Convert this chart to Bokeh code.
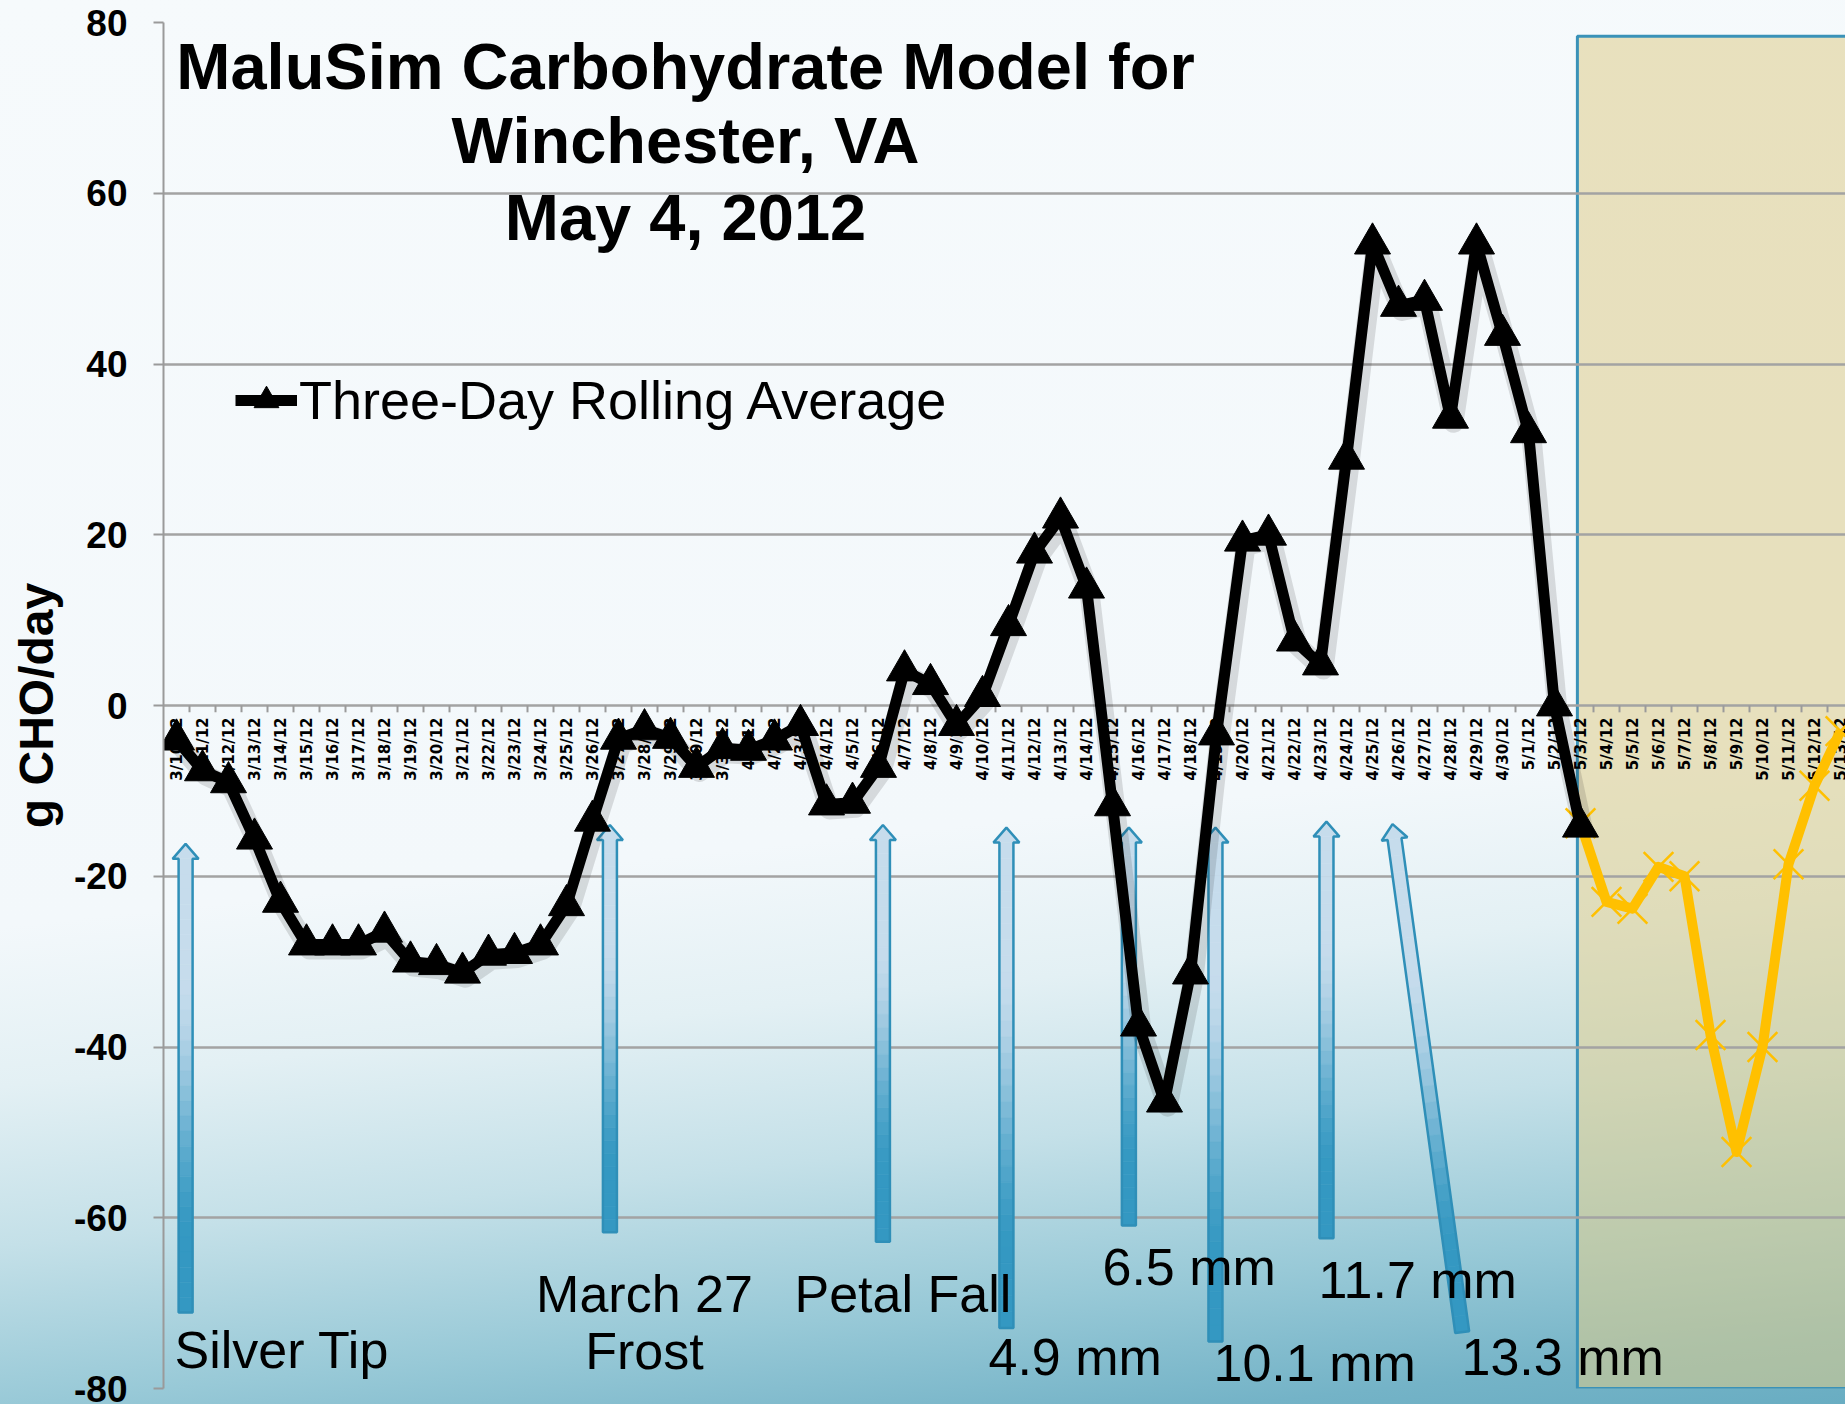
import math
from bokeh.plotting import figure
from bokeh.models import Range1d, FixedTicker, Legend, LegendItem
from bokeh.embed import file_html
from bokeh.resources import INLINE
from bokeh.core.properties import value

# ---------------- data ----------------
dates = ["3/10/12", "3/11/12", "3/12/12", "3/13/12", "3/14/12", "3/15/12", "3/16/12", "3/17/12",
         "3/18/12", "3/19/12", "3/20/12", "3/21/12", "3/22/12", "3/23/12", "3/24/12", "3/25/12",
         "3/26/12", "3/27/12", "3/28/12", "3/29/12", "3/30/12", "3/31/12",
         "4/1/12", "4/2/12", "4/3/12", "4/4/12", "4/5/12", "4/6/12", "4/7/12", "4/8/12", "4/9/12",
         "4/10/12", "4/11/12", "4/12/12", "4/13/12", "4/14/12", "4/15/12", "4/16/12", "4/17/12",
         "4/18/12", "4/19/12", "4/20/12", "4/21/12", "4/22/12", "4/23/12", "4/24/12", "4/25/12",
         "4/26/12", "4/27/12", "4/28/12", "4/29/12", "4/30/12",
         "5/1/12", "5/2/12", "5/3/12", "5/4/12", "5/5/12", "5/6/12", "5/7/12", "5/8/12", "5/9/12",
         "5/10/12", "5/11/12", "5/12/12", "5/13/12"]

rolling_avg = [-4, -7.6, -9, -15.6, -23, -28, -28, -28, -26.5, -30, -30.3, -31.3, -29.2, -29, -28,
               -23.4, -13.5, -3.9, -2.8, -3.8, -7.2, -5, -5.2, -4, -2.3, -11.6, -11.4, -7.2, 4.1,
               2.5, -2.3, 1.1, 9.4, 17.9, 22, 13.8, -11.7, -37.5, -46.4, -31.4, -3.4, 19.3, 20,
               7.6, 4.8, 28.9, 54.1, 46.8, 47.5, 33.7, 54.1, 43.4, 32, 0, -14.2]

forecast_dates = dates[54:]
forecast = [-13.8, -23, -23.8, -18.9, -20, -38.6, -52.3, -40, -18.6, -9.4, -3]

y_ticks = [-80, -60, -40, -20, 0, 20, 40, 60, 80]
y_tick_labels = ["-80", "-60", "-40", "-20", "0", "20", "40", "60", "80"]

# stage arrows: base and tip in category / g CHO units
arrow_labels = ["Silver Tip", "March 27 Frost", "Petal Fall", "4.9 mm", "6.5 mm",
                "10.1 mm", "11.7 mm", "13.3 mm"]
arrow_base_x = [0.85, 17.17, 27.67, 32.42, 37.13, 40.46, 44.73, 49.95]
arrow_base_y = [-71.1, -61.7, -62.8, -72.9, -60.9, -74.5, -62.4, -73.4]
arrow_tip_x = [0.85, 17.17, 27.67, 32.42, 37.13, 40.46, 44.73, 47.27]
arrow_tip_y = [-16.2, -14.0, -14.0, -14.3, -14.3, -14.3, -13.6, -13.9]

forecast_start = 54.38
forecast_top = 78.4

# ---------------- geometry helpers (page px -> data) ----------------
FRAME_LEFT = 163
ZERO_Y = 705
SX = 26.0          # px per category
SY = 1366 / 160.0  # px per g CHO
TXT = 21           # baseline correction for text glyphs


def dx(px):
    return (px - FRAME_LEFT) / SX


def dy(py):
    return (ZERO_Y - (py - TXT)) / SY


W, H = 1845, 1404
p = figure(width=W, height=H, output_backend="svg", toolbar_location=None,
           x_range=Range1d(0, (W - FRAME_LEFT) / SX), y_range=Range1d(-80, 80),
           x_axis_location=None, min_border_left=FRAME_LEFT, min_border_right=0,
           min_border_top=22, min_border_bottom=16,
           background_fill_color=None, border_fill_color=None, outline_line_color=None)
p.styles = {"background": "linear-gradient(174deg, #f6fafc 0%, #f3f8fb 58%, #e3f0f4 68%, "
                          "#c4e0e8 78%, #98c9d7 88%, #74b3c7 96%, #69adc2 100%)"}

# y axis
p.yaxis.ticker = FixedTicker(ticks=y_ticks)
p.yaxis.major_label_overrides = dict(zip(y_ticks, y_tick_labels))
p.yaxis.axis_line_color = "#9a9a9a"
p.yaxis.axis_line_width = 2
p.yaxis.major_tick_line_color = "#9a9a9a"
p.yaxis.major_tick_line_width = 2
p.yaxis.major_tick_out = 10
p.yaxis.major_tick_in = 0
p.yaxis.minor_tick_line_color = None
p.yaxis.major_label_standoff = 26
p.yaxis.major_label_text_font = "Liberation Sans"
p.yaxis.major_label_text_font_style = "bold"
p.yaxis.major_label_text_font_size = "37px"
p.yaxis.major_label_text_color = "black"
p.yaxis.axis_label = "g CHO/day"
p.yaxis.axis_label_text_font = "Liberation Sans"
p.yaxis.axis_label_text_font_style = "bold"
p.yaxis.axis_label_text_font_size = "48px"
p.yaxis.axis_label_text_color = "black"
p.yaxis.axis_label_standoff = 8

p.ygrid.ticker = FixedTicker(ticks=y_ticks)
p.ygrid.grid_line_color = "#a3a3a3"
p.ygrid.grid_line_width = 2.5
p.xgrid.grid_line_color = None

# forecast region
p.quad(left=[forecast_start], right=[forecast_start + 20], bottom=[-80], top=[forecast_top],
       fill_color="#ddcc8a", fill_alpha=0.55, line_color="#3a92b8", line_width=3, level="image")

# category tick marks and labels along the zero line
xs = [i + 0.5 for i in range(len(dates))]
bounds = list(range(1, len(dates) + 1))
p.segment(x0=bounds, y0=[0] * len(bounds), x1=bounds, y1=[-0.8] * len(bounds),
          line_color="#9a9a9a", line_width=2)
p.text(x=xs, y=[0] * len(xs), text=dates, angle=math.pi / 2, text_align="right",
       text_baseline="middle", y_offset=12, text_font=value("DejaVu Sans"),
       text_font_style="bold", text_font_size="15px", text_color="black")


# arrows
def lerp_color(c1, c2, t):
    return "#%02x%02x%02x" % tuple(int(round(a + (b - a) * t)) for a, b in zip(c1, c2))


LIGHT = (198, 220, 236)
BLUE = (52, 152, 194)
seg_xs, seg_ys, seg_cols = [], [], []
out_xs, out_ys = [], []
for bx0, by0, tx0, ty0 in zip(arrow_base_x, arrow_base_y, arrow_tip_x, arrow_tip_y):
    bx, by, tx, ty = bx0 * SX, by0 * SY, tx0 * SX, ty0 * SY
    L = math.hypot(tx - bx, ty - by)
    ux, uy = (tx - bx) / L, (ty - by) / L
    nx, ny = -uy, ux
    hl, hw, hh = 15, 7, 13
    kx, ky = tx - ux * hl, ty - uy * hl
    poly = [(bx + nx * hw, by + ny * hw), (kx + nx * hw, ky + ny * hw), (kx + nx * hh, ky + ny * hh),
            (tx, ty), (kx - nx * hh, ky - ny * hh), (kx - nx * hw, ky - ny * hw),
            (bx - nx * hw, by - ny * hw)]
    out_xs.append([q[0] / SX for q in poly])
    out_ys.append([q[1] / SY for q in poly])
    head = [(kx + nx * hh, ky + ny * hh), (tx, ty), (kx - nx * hh, ky - ny * hh)]
    seg_xs.append([q[0] / SX for q in head])
    seg_ys.append([q[1] / SY for q in head])
    seg_cols.append(lerp_color(LIGHT, LIGHT, 0))
    N = 30
    for k in range(N):
        t0, t1 = k / N, (k + 1) / N
        ax0, ay0 = kx + (bx - kx) * t0, ky + (by - ky) * t0
        ax1, ay1 = kx + (bx - kx) * t1, ky + (by - ky) * t1
        q = [(ax0 + nx * hw, ay0 + ny * hw), (ax1 + nx * hw, ay1 + ny * hw),
             (ax1 - nx * hw, ay1 - ny * hw), (ax0 - nx * hw, ay0 - ny * hw)]
        seg_xs.append([v[0] / SX for v in q])
        seg_ys.append([v[1] / SY for v in q])
        tm = (t0 + t1) / 2
        s = min(1.0, max(0.0, (tm - 0.25) / 0.6))
        s = s * s * (3 - 2 * s)
        seg_cols.append(lerp_color(LIGHT, BLUE, s))

p.patches(xs=seg_xs, ys=seg_ys, fill_color=seg_cols, line_color=seg_cols, line_width=0.5)
p.patches(xs=out_xs, ys=out_ys, fill_color=None, line_color="#2f8fb8", line_width=2.5)

# arrow labels
lab_font = value("Liberation Sans")
p.text(x=[dx(174)], y=[dy(1370)], text=["Silver Tip"], text_font=lab_font, text_font_size="52px",
       text_align="left", text_baseline="alphabetic", text_color="black")
p.text(x=[dx(644), dx(644)], y=[dy(1314), dy(1371)], text=["March 27", "Frost"], text_font=lab_font,
       text_font_size="52px", text_align="center", text_baseline="alphabetic", text_color="black")
p.text(x=[dx(794), dx(988), dx(1102), dx(1213), dx(1318), dx(1461)],
       y=[dy(1314), dy(1377), dy(1287), dy(1383), dy(1300), dy(1377)],
       text=["Petal Fall", "4.9 mm", "6.5 mm", "10.1 mm", "11.7 mm", "13.3 mm"],
       text_font=lab_font, text_font_size="52px", text_align="left",
       text_baseline="alphabetic", text_color="black")

# series
xs_avg = [i + 0.5 for i in range(len(rolling_avg))]
xs_fc = [i + 0.5 for i in range(54, 54 + len(forecast))]

p.line(x=xs_fc, y=forecast, line_color="#ffc000", line_width=10, line_join="round")
p.scatter(x=xs_fc, y=forecast, marker="x", size=42, line_color="#ffc000", line_width=2.5)

# soft shadow of the rolling average line
p.line(x=[v + 3 / SX for v in xs_avg], y=[v - 5 / SY for v in rolling_avg], line_color="black",
       line_alpha=0.12, line_width=20, line_join="round")
r_line = p.line(x=xs_avg, y=rolling_avg, line_color="black", line_width=11, line_join="round")
r_mark = p.scatter(x=xs_avg, y=rolling_avg, marker="triangle", size=36, fill_color="black",
                   line_color="black")

legend = Legend(items=[LegendItem(label="Three-Day Rolling Average", renderers=[r_line, r_mark])],
                location=(72, 948), background_fill_alpha=0, border_line_alpha=0,
                label_text_font="Liberation Sans", label_text_font_size="54px",
                label_text_color="black", glyph_width=62, glyph_height=80,
                padding=0, margin=0, label_standoff=2)
p.add_layout(legend)

# title
p.text(x=[dx(685)] * 3, y=[dy(87), dy(161), dy(238)],
       text=["MaluSim Carbohydrate Model for", "Winchester, VA", "May 4, 2012"],
       text_font=value("Liberation Sans"), text_font_style="bold", text_font_size="65px",
       text_align="center", text_baseline="alphabetic", text_color="black")

open("out.html", "w").write(file_html(p, INLINE))
